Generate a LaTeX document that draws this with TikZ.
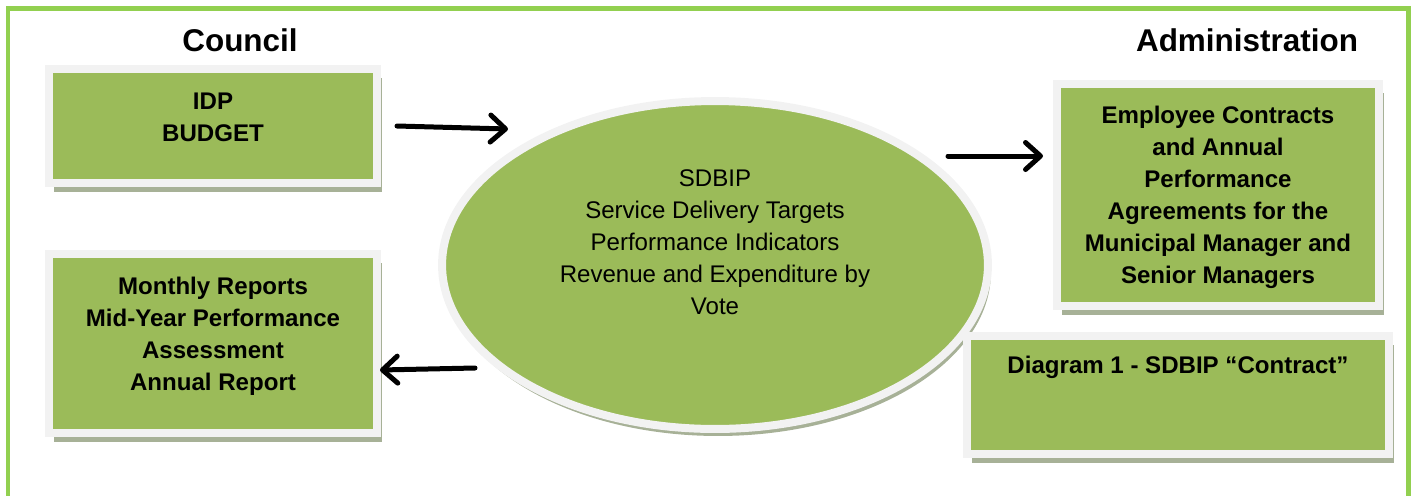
\documentclass[tikz,border=0pt]{standalone}
\usepackage{fontspec}
\setmainfont{Liberation Sans}
\usetikzlibrary{arrows.meta,shapes.geometric,shadows}
\definecolor{frame}{HTML}{92D050}
\definecolor{olive}{HTML}{9BBB59}
\definecolor{rim}{HTML}{F2F2F2}
\definecolor{shade}{HTML}{A7B197}

\tikzset{
	box/.style={rectangle, fill=olive, draw=rim, line width=0.16cm, inner sep=0pt,
		drop shadow={shadow xshift=0.1cm, shadow yshift=-0.18cm, fill=shade, opacity=1}},
	boxtext/.style={align=center, inner sep=0pt, font=\bfseries\fontsize{13.7}{18.2}\selectfont},
	title/.style={font=\bfseries\fontsize{17.9}{21}\selectfont},
	flow/.style={line width=0.1cm, line cap=round,
		-{Straight Barb[length=0.3cm, width=0.54cm, line join=round, line cap=round]}},
}

\begin{document}
\begin{tikzpicture}[x=0.02cm, y=-0.02cm]

	\useasboundingbox (0,0) rectangle (1413,495);

	% ---- cornice ----
	\draw[frame, line width=0.1cm] (8,505) -- (8,8) -- (1408,8) -- (1408,505);

	% ---- titoli ----
	\node[title] (council) at (240,40) {Council};
	\node[title] (admin) at (1247,40) {Administration};

	% ---- riquadri a sinistra ----
	\node[box, minimum width=6.56cm, minimum height=2.28cm] (idp) at (213,126) {};
	\node[box, minimum width=6.56cm, minimum height=3.58cm] (reports) at (213,343.5) {};

	% ---- ellisse centrale ----
	\node[ellipse, fill=olive, draw=rim, line width=0.16cm, inner sep=0pt,
		minimum width=10.92cm, minimum height=6.56cm,
		drop shadow={shadow xshift=0.06cm, shadow yshift=-0.14cm, fill=shade, opacity=1}]
		(sdbip) at (715,265) {};

	% ---- riquadri a destra ----
	\node[box, minimum width=6.44cm, minimum height=4.44cm] (staff) at (1218,195) {};
	\node[box, minimum width=8.44cm, minimum height=2.36cm] (caption) at (1178,395) {};

	% ---- testi ----
	\node[boxtext] (idptext) at (213,117) {IDP\\BUDGET};
	\node[boxtext] (reportstext) at (213,336)
		{Monthly Reports\\Mid-Year Performance\\Assessment\\Annual Report};
	\node[align=center, inner sep=0pt, font=\fontsize{13.7}{18.2}\selectfont] (sdbiptext) at (715,242)
		{SDBIP\\Service Delivery Targets\\Performance Indicators\\Revenue and Expenditure by\\Vote};
	\node[boxtext] (stafftext) at (1218,197)
		{Employee Contracts\\and Annual\\Performance\\Agreements for the\\Municipal Manager and\\Senior Managers};
	\node[boxtext] (captiontext) at (1178,367) {Diagram 1 - SDBIP “Contract”};

	% ---- frecce ----
	\coordinate (idp-out) at (397,126);
	\coordinate (sdbip-in) at (508,129);
	\coordinate (sdbip-out) at (948,156);
	\coordinate (staff-in) at (1043,156);
	\coordinate (sdbip-back) at (475,368);
	\coordinate (reports-in) at (380,370);
	\foreach \s/\e in {idp-out/sdbip-in, sdbip-out/staff-in, sdbip-back/reports-in}
		\draw[flow] (\s) -- (\e);

\end{tikzpicture}
\end{document}
